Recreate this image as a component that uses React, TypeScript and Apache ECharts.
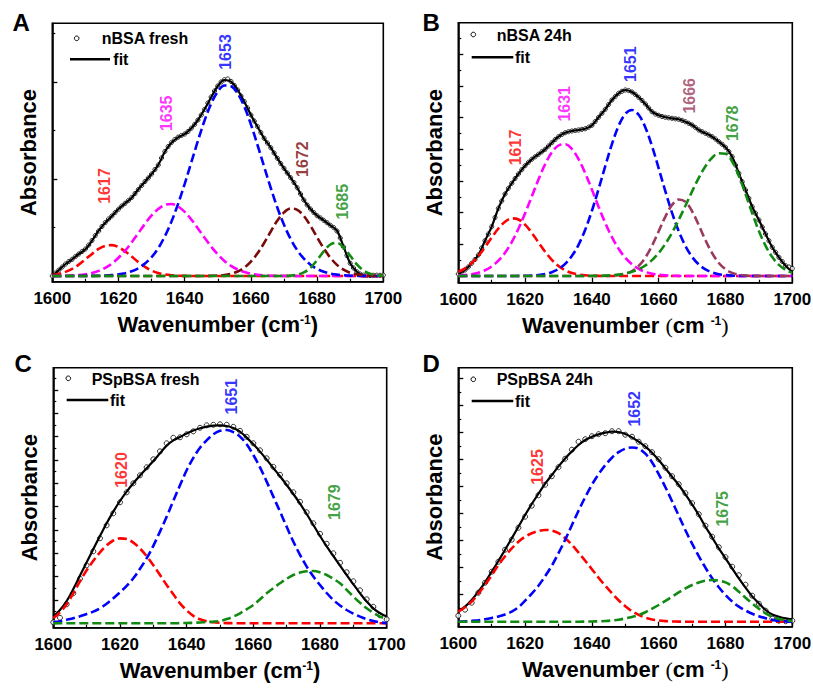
import React, { useEffect, useRef } from 'react';
import * as echarts from 'echarts';

// ---------- data (absorbance, arbitrary units above baseline) ----------
const WN_2 = Array.from({ length: 51 }, (_, i) => 1600 + 2 * i); // fit & components grid
const WN_1 = Array.from({ length: 101 }, (_, i) => 1600 + i); // dense data grid (A, B)

const SAMPLES = ['nBSA fresh', 'nBSA 24h', 'PSpBSA fresh', 'PSpBSA 24h'];
const LETTERS = ['A', 'B', 'C', 'D'];
const X_TICKS = [1600, 1620, 1640, 1660, 1680, 1700];

const A_PEAKS = ['1617', '1635', '1653', '1672', '1685'];
const B_PEAKS = ['1617', '1631', '1651', '1666', '1678'];
const C_PEAKS = ['1620', '1651', '1679'];
const D_PEAKS = ['1625', '1652', '1675'];

const A_DATA = [
  0.0, 0.03, 0.06, 0.09, 0.12, 0.145, 0.167, 0.195, 0.22, 0.245,
  0.27, 0.31, 0.355, 0.405, 0.45, 0.495, 0.535, 0.57, 0.6, 0.635,
  0.668, 0.7, 0.727, 0.755, 0.785, 0.825, 0.865, 0.905, 0.945, 0.98,
  1.02, 1.065, 1.11, 1.18, 1.245, 1.295, 1.335, 1.365, 1.388, 1.405,
  1.42, 1.445, 1.478, 1.515, 1.56, 1.61, 1.665, 1.73, 1.79, 1.85,
  1.9, 1.94, 1.963, 1.97, 1.945, 1.905, 1.86, 1.8, 1.745, 1.68,
  1.61, 1.55, 1.495, 1.435, 1.377, 1.33, 1.283, 1.23, 1.177, 1.125,
  1.077, 1.03, 0.983, 0.935, 0.883, 0.82, 0.76, 0.71, 0.67, 0.635,
  0.603, 0.58, 0.557, 0.533, 0.507, 0.485, 0.45, 0.38, 0.29, 0.205,
  0.127, 0.08, 0.043, 0.02, 0.008, 0.005, 0.005, 0.007, 0.008, 0.007,
  0.008,
];
const A_FIT = [
  0, 0.06, 0.12, 0.167, 0.22, 0.267, 0.353, 0.453, 0.533, 0.6,
  0.67, 0.727, 0.783, 0.867, 0.943, 1.02, 1.11, 1.243, 1.333, 1.387,
  1.42, 1.477, 1.56, 1.667, 1.787, 1.9, 1.96, 1.943, 1.86, 1.743,
  1.61, 1.493, 1.377, 1.283, 1.177, 1.077, 0.983, 0.883, 0.76, 0.67,
  0.603, 0.557, 0.507, 0.453, 0.293, 0.127, 0.043, 0.007, 0, 0,
  0.003,
];
const A_1617 = [
  0.01, 0.021, 0.041, 0.071, 0.114, 0.166, 0.221, 0.271, 0.302, 0.309,
  0.289, 0.247, 0.194, 0.139, 0.091, 0.054, 0.03, 0.015, 0.007, 0.003,
  0.001, 0, 0, 0, 0, 0, 0, 0, 0, 0,
  0, 0, 0, 0, 0, 0, 0, 0, 0, 0,
  0, 0, 0, 0, 0, 0, 0, 0, 0, 0,
  0,
];
const A_1635 = [
  0, 0.001, 0.002, 0.005, 0.009, 0.017, 0.03, 0.051, 0.081, 0.124,
  0.182, 0.253, 0.337, 0.429, 0.522, 0.606, 0.671, 0.711, 0.72, 0.695,
  0.641, 0.565, 0.476, 0.383, 0.294, 0.216, 0.151, 0.101, 0.065, 0.04,
  0.023, 0.013, 0.007, 0.003, 0.002, 0.001, 0, 0, 0, 0,
  0, 0, 0, 0, 0, 0, 0, 0, 0, 0,
  0,
];
const A_1653 = [
  0, 0, 0, 0, 0, 0.001, 0.001, 0.002, 0.005, 0.009,
  0.016, 0.028, 0.048, 0.078, 0.124, 0.189, 0.278, 0.397, 0.544, 0.721,
  0.921, 1.137, 1.353, 1.555, 1.724, 1.845, 1.905, 1.898, 1.825, 1.694,
  1.516, 1.31, 1.093, 0.88, 0.683, 0.512, 0.37, 0.258, 0.174, 0.113,
  0.071, 0.043, 0.025, 0.014, 0.008, 0.004, 0.002, 0.001, 0, 0,
  0,
];
const A_1672 = [
  0, 0, 0, 0, 0, 0, 0, 0, 0, 0,
  0, 0, 0, 0, 0, 0, 0, 0, 0, 0,
  0, 0, 0, 0.001, 0.002, 0.004, 0.01, 0.023, 0.045, 0.084,
  0.144, 0.227, 0.33, 0.445, 0.554, 0.636, 0.675, 0.662, 0.6, 0.501,
  0.387, 0.277, 0.183, 0.111, 0.063, 0.032, 0.016, 0.007, 0.003, 0.001,
  0,
];
const A_1685 = [
  0, 0, 0, 0, 0, 0, 0, 0, 0, 0,
  0, 0, 0, 0, 0, 0, 0, 0, 0, 0,
  0, 0, 0, 0, 0, 0, 0, 0, 0, 0,
  0, 0, 0, 0, 0, 0.001, 0.004, 0.013, 0.036, 0.083,
  0.158, 0.246, 0.315, 0.331, 0.285, 0.202, 0.117, 0.056, 0.022, 0.007,
  0.002,
];

const B_DATA = [
  0.02, 0.04, 0.06, 0.09, 0.127, 0.165, 0.21, 0.28, 0.353, 0.42,
  0.493, 0.585, 0.677, 0.75, 0.82, 0.877, 0.927, 0.975, 1.02, 1.063,
  1.103, 1.137, 1.167, 1.192, 1.217, 1.242, 1.267, 1.3, 1.333, 1.365,
  1.393, 1.415, 1.433, 1.443, 1.45, 1.455, 1.46, 1.466, 1.473, 1.488,
  1.507, 1.545, 1.587, 1.627, 1.667, 1.715, 1.76, 1.795, 1.827, 1.847,
  1.86, 1.855, 1.84, 1.815, 1.787, 1.755, 1.72, 1.68, 1.643, 1.62,
  1.607, 1.595, 1.587, 1.582, 1.577, 1.572, 1.567, 1.556, 1.543, 1.527,
  1.51, 1.485, 1.46, 1.443, 1.427, 1.41, 1.393, 1.37, 1.343, 1.317,
  1.287, 1.245, 1.193, 1.11, 1.027, 0.943, 0.86, 0.777, 0.693, 0.627,
  0.56, 0.49, 0.42, 0.353, 0.287, 0.237, 0.187, 0.145, 0.103, 0.09,
  0.075,
];
const B_FIT = [
  0.02, 0.06, 0.127, 0.21, 0.353, 0.493, 0.677, 0.82, 0.927, 1.02,
  1.103, 1.167, 1.217, 1.267, 1.333, 1.393, 1.433, 1.45, 1.46, 1.473,
  1.507, 1.587, 1.667, 1.76, 1.827, 1.86, 1.84, 1.787, 1.72, 1.643,
  1.607, 1.587, 1.577, 1.567, 1.543, 1.51, 1.46, 1.427, 1.393, 1.343,
  1.287, 1.193, 1.027, 0.86, 0.693, 0.56, 0.42, 0.287, 0.187, 0.103,
  0.04,
];
const B_1617 = [
  0.042, 0.077, 0.129, 0.2, 0.289, 0.385, 0.475, 0.543, 0.576, 0.565,
  0.513, 0.432, 0.336, 0.243, 0.162, 0.1, 0.057, 0.03, 0.015, 0.007,
  0.003, 0.001, 0, 0, 0, 0, 0, 0, 0, 0,
  0, 0, 0, 0, 0, 0, 0, 0, 0, 0,
  0, 0, 0, 0, 0, 0, 0, 0, 0, 0,
  0,
];
const B_1631 = [
  0.005, 0.009, 0.018, 0.033, 0.057, 0.096, 0.153, 0.233, 0.339, 0.472,
  0.627, 0.796, 0.965, 1.117, 1.236, 1.305, 1.317, 1.27, 1.169, 1.028,
  0.864, 0.693, 0.531, 0.389, 0.272, 0.182, 0.116, 0.071, 0.041, 0.023,
  0.012, 0.006, 0.003, 0.001, 0, 0, 0, 0, 0, 0,
  0, 0, 0, 0, 0, 0, 0, 0, 0, 0,
  0,
];
const B_1651 = [
  0, 0, 0, 0, 0, 0, 0, 0, 0, 0.001,
  0.002, 0.005, 0.01, 0.02, 0.038, 0.07, 0.121, 0.2, 0.312, 0.463,
  0.652, 0.869, 1.099, 1.319, 1.502, 1.621, 1.66, 1.612, 1.486, 1.298,
  1.076, 0.846, 0.631, 0.447, 0.3, 0.191, 0.115, 0.066, 0.036, 0.018,
  0.009, 0.004, 0.002, 0.001, 0, 0, 0, 0, 0, 0,
  0,
];
const B_1666 = [
  0, 0, 0, 0, 0, 0, 0, 0, 0, 0,
  0, 0, 0, 0, 0, 0, 0, 0, 0, 0,
  0, 0, 0.001, 0.003, 0.009, 0.022, 0.05, 0.101, 0.185, 0.303,
  0.447, 0.594, 0.711, 0.765, 0.742, 0.647, 0.508, 0.358, 0.228, 0.13,
  0.067, 0.031, 0.013, 0.005, 0.002, 0.001, 0, 0, 0, 0,
  0,
];
const B_1678 = [
  0, 0, 0, 0, 0, 0, 0, 0, 0, 0,
  0, 0, 0, 0, 0, 0, 0, 0, 0, 0,
  0.001, 0.002, 0.004, 0.008, 0.014, 0.025, 0.042, 0.067, 0.105, 0.159,
  0.23, 0.322, 0.433, 0.562, 0.702, 0.846, 0.982, 1.098, 1.183, 1.227,
  1.223, 1.144, 1.001, 0.82, 0.628, 0.45, 0.302, 0.189, 0.111, 0.061,
  0.031,
];

const C_DATA = [
  0.01, 0.055, 0.19, 0.3, 0.445, 0.58, 0.72, 0.85, 0.98, 1.1,
  1.21, 1.31, 1.4, 1.48, 1.56, 1.64, 1.72, 1.8, 1.855, 1.86,
  1.89, 1.92, 1.955, 1.98, 1.985, 1.99, 1.985, 1.965, 1.925, 1.865,
  1.8, 1.73, 1.65, 1.565, 1.485, 1.4, 1.31, 1.215, 1.11, 1.0,
  0.895, 0.795, 0.7, 0.605, 0.51, 0.42, 0.33, 0.24, 0.165, 0.08,
  0.04,
];
const C_FIT = [
  0.067, 0.133, 0.223, 0.343, 0.477, 0.61, 0.743, 0.873, 1.0, 1.117,
  1.223, 1.317, 1.4, 1.477, 1.55, 1.623, 1.7, 1.777, 1.83, 1.863,
  1.897, 1.927, 1.95, 1.967, 1.977, 1.98, 1.973, 1.953, 1.917, 1.857,
  1.79, 1.717, 1.637, 1.553, 1.47, 1.383, 1.293, 1.197, 1.093, 0.983,
  0.873, 0.77, 0.673, 0.577, 0.483, 0.39, 0.3, 0.217, 0.15, 0.1,
  0.067,
];
const C_1620 = [
  0.05, 0.11, 0.19, 0.3, 0.42, 0.53, 0.625, 0.71, 0.78, 0.828,
  0.849, 0.842, 0.807, 0.748, 0.671, 0.581, 0.483, 0.383, 0.29, 0.2,
  0.13, 0.075, 0.04, 0.02, 0.01, 0.005, 0.002, 0.001, 0, 0,
  0, 0, 0, 0, 0, 0, 0, 0, 0, 0,
  0, 0, 0, 0, 0, 0, 0, 0, 0, 0,
  0,
];
const C_1651 = [
  0.01, 0.02, 0.035, 0.05, 0.07, 0.093, 0.117, 0.15, 0.195, 0.25,
  0.31, 0.375, 0.45, 0.545, 0.65, 0.775, 0.917, 1.065, 1.225, 1.38,
  1.53, 1.655, 1.755, 1.83, 1.89, 1.925, 1.933, 1.912, 1.867, 1.79,
  1.683, 1.56, 1.417, 1.267, 1.117, 0.965, 0.817, 0.685, 0.567, 0.467,
  0.383, 0.303, 0.233, 0.178, 0.133, 0.097, 0.067, 0.042, 0.023, 0.01,
  0,
];
const C_1679 = [
  0, 0, 0, 0, 0, 0, 0, 0, 0, 0,
  0, 0, 0, 0, 0, 0, 0, 0, 0, 0.002,
  0.003, 0.005, 0.008, 0.012, 0.017, 0.023, 0.042, 0.067, 0.1, 0.14,
  0.183, 0.24, 0.3, 0.352, 0.4, 0.445, 0.483, 0.507, 0.52, 0.523,
  0.51, 0.483, 0.445, 0.4, 0.335, 0.267, 0.205, 0.15, 0.105, 0.067,
  0.043,
];

const D_DATA = [
  0.06, 0.12, 0.19, 0.29, 0.39, 0.5, 0.6, 0.72, 0.82, 0.94,
  1.05, 1.16, 1.265, 1.37, 1.455, 1.545, 1.63, 1.72, 1.8, 1.825,
  1.855, 1.875, 1.885, 1.905, 1.905, 1.87, 1.85, 1.8, 1.755, 1.695,
  1.625, 1.54, 1.455, 1.375, 1.285, 1.185, 1.075, 0.96, 0.85, 0.745,
  0.645, 0.55, 0.465, 0.37, 0.26, 0.18, 0.11, 0.03, 0.01, 0.005,
  0.01,
];
const D_FIT = [
  0.107, 0.15, 0.217, 0.3, 0.393, 0.5, 0.607, 0.72, 0.833, 0.95,
  1.067, 1.177, 1.28, 1.38, 1.467, 1.553, 1.633, 1.703, 1.767, 1.817,
  1.85, 1.873, 1.89, 1.9, 1.897, 1.877, 1.843, 1.8, 1.75, 1.69,
  1.617, 1.533, 1.45, 1.367, 1.273, 1.173, 1.067, 0.95, 0.843, 0.733,
  0.633, 0.533, 0.433, 0.34, 0.253, 0.183, 0.117, 0.073, 0.05, 0.033,
  0.023,
];
const D_1625 = [
  0.1, 0.145, 0.2, 0.28, 0.367, 0.465, 0.567, 0.655, 0.733, 0.8,
  0.85, 0.885, 0.907, 0.917, 0.912, 0.885, 0.835, 0.77, 0.69, 0.61,
  0.525, 0.44, 0.36, 0.285, 0.215, 0.155, 0.105, 0.068, 0.04, 0.022,
  0.012, 0.006, 0.003, 0.001, 0, 0, 0, 0, 0, 0,
  0, 0, 0, 0, 0, 0, 0, 0, 0, 0,
  0,
];
const D_1652 = [
  0, 0.003, 0.008, 0.015, 0.025, 0.038, 0.053, 0.073, 0.1, 0.145,
  0.21, 0.28, 0.36, 0.455, 0.56, 0.685, 0.82, 0.965, 1.11, 1.245,
  1.37, 1.475, 1.565, 1.64, 1.695, 1.73, 1.742, 1.73, 1.68, 1.595,
  1.475, 1.345, 1.205, 1.06, 0.915, 0.78, 0.655, 0.54, 0.435, 0.345,
  0.267, 0.202, 0.15, 0.112, 0.08, 0.055, 0.035, 0.02, 0.008, 0.003,
  0,
];
const D_1675 = [
  0, 0, 0, 0, 0, 0, 0, 0, 0, 0,
  0, 0, 0, 0, 0, 0, 0, 0, 0, 0.001,
  0.002, 0.004, 0.007, 0.012, 0.02, 0.033, 0.048, 0.067, 0.095, 0.13,
  0.167, 0.208, 0.25, 0.293, 0.333, 0.367, 0.393, 0.41, 0.417, 0.41,
  0.393, 0.355, 0.3, 0.24, 0.183, 0.13, 0.083, 0.05, 0.027, 0.013,
  0.007,
];

// ---------- styles & layout ----------
const SANS = '"Liberation Sans", Arial, Helvetica, sans-serif';
const SERIF = '"Liberation Serif", "Times New Roman", serif';
const COL = {
  red: '#ff0000',
  magenta: '#ff00ff',
  blue: '#0000ff',
  maroon: '#7a0a0a',
  green: '#118a11',
  wine: '#9b3a5c',
};

const PANELS = [
  {
    data: A_DATA, dataX: WN_1, fit: A_FIT, symSize: 4.2,
    comps: [
      { y: A_1617, color: COL.red, text: A_PEAKS[0] },
      { y: A_1635, color: COL.magenta, text: A_PEAKS[1] },
      { y: A_1653, color: COL.blue, text: A_PEAKS[2] },
      { y: A_1672, color: COL.maroon, text: A_PEAKS[3] },
      { y: A_1685, color: COL.green, text: A_PEAKS[4] },
    ],
  },
  {
    data: B_DATA, dataX: WN_1, fit: B_FIT, symSize: 4.2,
    comps: [
      { y: B_1617, color: COL.red, text: B_PEAKS[0] },
      { y: B_1631, color: COL.magenta, text: B_PEAKS[1] },
      { y: B_1651, color: COL.blue, text: B_PEAKS[2] },
      { y: B_1666, color: COL.wine, text: B_PEAKS[3] },
      { y: B_1678, color: COL.green, text: B_PEAKS[4] },
    ],
  },
  {
    data: C_DATA, dataX: WN_2, fit: C_FIT, symSize: 5,
    comps: [
      { y: C_1620, color: COL.red, text: C_PEAKS[0] },
      { y: C_1651, color: COL.blue, text: C_PEAKS[1] },
      { y: C_1679, color: COL.green, text: C_PEAKS[2] },
    ],
  },
  {
    data: D_DATA, dataX: WN_2, fit: D_FIT, symSize: 5,
    comps: [
      { y: D_1625, color: COL.red, text: D_PEAKS[0] },
      { y: D_1652, color: COL.blue, text: D_PEAKS[1] },
      { y: D_1675, color: COL.green, text: D_PEAKS[2] },
    ],
  },
];

const LAYOUT = [
  {
    left: 52.3, top: 23.3, width: 331, height: 258.4, yMin: -0.057, yMax: 2.527, half: 0.485,
    letter: [12.5, 22], serifParen: false,
    leg: { cx: 76.7, cy: 38.3, tx: 101.7, ty: 38.3, lx1: 70, lx2: 110, ly: 59.3, fx: 113.3 },
    labels: [[1615.7, 0.9], [1634.4, 1.627], [1652.4, 2.24], [1675.6, 1.168], [1687.6, 0.743]],
  },
  {
    left: 458.3, top: 22.7, width: 334, height: 260, yMin: -0.067, yMax: 2.533, half: 0.1585,
    letter: [422.5, 22.5], serifParen: true,
    leg: { cx: 473.3, cy: 34.5, tx: 496.7, ty: 35.3, lx1: 471.7, lx2: 513.3, ly: 57.3, fx: 515 },
    labels: [[1617.2, 1.285], [1631.7, 1.722], [1651.6, 2.118], [1669.1, 1.802], [1682.1, 1.527]],
  },
  {
    left: 53.3, top: 367.7, width: 333.4, height: 260, yMin: -0.044, yMax: 2.556, half: 0.1167,
    letter: [14.5, 363.5], serifParen: false,
    leg: { cx: 68.3, cy: 378.3, tx: 91.7, ty: 379, lx1: 66.7, lx2: 108.3, ly: 400, fx: 110 },
    labels: [[1620.5, 1.533], [1653.3, 2.266], [1684.2, 1.211]],
  },
  {
    left: 458.3, top: 367.7, width: 334, height: 259, yMin: -0.05, yMax: 2.54, half: 0.135,
    letter: [422.5, 363.5], serifParen: true,
    leg: { cx: 473.3, cy: 379.3, tx: 496.7, ty: 379.5, lx1: 471.7, lx2: 513.3, ly: 401, fx: 515 },
    labels: [[1623.6, 1.547], [1652.9, 2.129], [1679.0, 1.129]],
  },
];

function pairs(xs: number[], ys: number[]) {
  return ys.map((y, i) => [xs[i], y]);
}

function tickValues(half: number, max: number, major: boolean) {
  const out: number[] = [];
  for (let k = 0; k * half <= max + 1e-9; k++) {
    if ((k % 2 === 0) === major) out.push(+(k * half).toFixed(4));
  }
  return out;
}

function buildOption() {
  const grid: any[] = [];
  const xAxis: any[] = [];
  const yAxis: any[] = [];
  const series: any[] = [];
  const graphic: any[] = [];

  PANELS.forEach((p, i) => {
    const L = LAYOUT[i];
    grid.push({
      left: L.left, top: L.top, width: L.width, height: L.height,
      show: true, borderColor: '#000', borderWidth: 1.6, backgroundColor: 'transparent',
      containLabel: false, outerBoundsMode: 'none',
    });
    const xName = L.serifParen
      ? '{b|Wavenumber }{p|(}{b|cm }{s|-1}{p|)}'
      : '{b|Wavenumber (cm}{s|-1}{b|)}';
    xAxis.push({
      type: 'value', gridIndex: i, position: 'bottom',
      min: X_TICKS[0], max: X_TICKS[X_TICKS.length - 1], interval: X_TICKS[1] - X_TICKS[0],
      axisLine: { show: true, onZero: false, lineStyle: { color: '#000', width: 1.6 } },
      axisTick: { show: true, inside: true, length: 5, lineStyle: { color: '#000', width: 1.3 } },
      minorTick: { show: true, splitNumber: 2, length: 3, lineStyle: { color: '#000', width: 1.2 } },
      splitLine: { show: false },
      minorSplitLine: { show: false },
      axisLabel: {
        show: true, margin: 8, color: '#000', fontSize: 17, fontWeight: 'bold', fontFamily: SANS,
        formatter: (v: number) => String(v),
      },
      name: xName,
      nameLocation: 'middle',
      nameGap: 32,
      nameMoveOverlap: false,
      nameTextStyle: {
        color: '#000',
        rich: {
          b: { fontSize: 22, fontWeight: 'bold', fontFamily: SANS, color: '#000' },
          p: { fontSize: 22, fontWeight: 'normal', fontFamily: SERIF, color: '#000' },
          s: { fontSize: 12, fontWeight: 'bold', fontFamily: SANS, color: '#000', verticalAlign: 'bottom', padding: [0, 0, 10, 0] },
        },
      },
    });
    yAxis.push({
      type: 'value', gridIndex: i, position: 'left', min: L.yMin, max: L.yMax,
      axisLine: { show: true, onZero: false, lineStyle: { color: '#000', width: 1.6 } },
      axisTick: { show: true, inside: true, length: 5, customValues: tickValues(L.half, L.yMax, true), lineStyle: { color: '#000', width: 1.3 } },
      axisLabel: { show: false },
      splitLine: { show: false },
      name: 'Absorbance',
      nameLocation: 'middle',
      nameRotate: 90,
      nameGap: 13,
      nameMoveOverlap: false,
      nameTextStyle: { color: '#000', fontSize: 22, fontWeight: 'bold', fontFamily: SANS },
    });
    yAxis.push({
      type: 'value', gridIndex: i, position: 'left', min: L.yMin, max: L.yMax,
      axisLine: { show: false },
      axisTick: { show: true, inside: true, length: 3, customValues: tickValues(L.half, L.yMax, false), lineStyle: { color: '#000', width: 1.2 } },
      axisLabel: { show: false },
      splitLine: { show: false },
    });

    const yIdx = 2 * i;
    series.push({
      type: 'scatter', name: SAMPLES[i], xAxisIndex: i, yAxisIndex: yIdx,
      data: pairs(p.dataX, p.data),
      symbol: 'circle', symbolSize: p.symSize,
      itemStyle: { color: '#fff', borderColor: '#000', borderWidth: 1 },
      z: 2, silent: true,
    });
    series.push({
      type: 'line', name: 'fit', xAxisIndex: i, yAxisIndex: yIdx,
      data: pairs(WN_2, p.fit), smooth: 0.35, symbol: 'none', showSymbol: false,
      lineStyle: { color: '#000', width: 2.2 }, z: 3, silent: true,
    });
    p.comps.forEach((c, k) => {
      series.push({
        type: 'line', name: 'peak ' + c.text, xAxisIndex: i, yAxisIndex: yIdx,
        data: pairs(WN_2, c.y), smooth: 0.35, symbol: 'none', showSymbol: false,
        lineStyle: { color: c.color, width: 2.6, type: [9, 4] }, z: 4 + k * 0.01, silent: true,
      });
    });
    series.push({
      type: 'scatter', name: 'labels ' + LETTERS[i], xAxisIndex: i, yAxisIndex: yIdx,
      symbol: 'circle', symbolSize: 1,
      itemStyle: { color: 'rgba(0,0,0,0)' },
      data: p.comps.map((c, k) => ({
        name: c.text,
        value: L.labels[k],
        label: { color: c.color },
      })),
      label: {
        show: true, position: 'inside', rotate: 90, formatter: '{b}',
        fontSize: 16, fontFamily: SANS, fontWeight: 'bold',
      },
      z: 6, silent: true,
    });

    // panel letter
    graphic.push({
      type: 'text', x: L.letter[0], y: L.letter[1],
      style: { text: LETTERS[i], font: `bold 24px ${SANS}`, fill: '#000', textAlign: 'left', textVerticalAlign: 'middle' },
    });
    // legend
    const g = L.leg;
    graphic.push({
      type: 'circle', shape: { cx: g.cx, cy: g.cy, r: 2.3 },
      style: { fill: '#fff', stroke: '#000', lineWidth: 1 },
    });
    graphic.push({
      type: 'text', x: g.tx, y: g.ty,
      style: { text: SAMPLES[i], font: `bold 16px ${SANS}`, fill: '#000', textAlign: 'left', textVerticalAlign: 'middle' },
    });
    graphic.push({
      type: 'line', shape: { x1: g.lx1, y1: g.ly, x2: g.lx2, y2: g.ly },
      style: { stroke: '#000', lineWidth: 2.6 },
    });
    graphic.push({
      type: 'text', x: g.fx, y: g.ly,
      style: { text: 'fit', font: `bold 16px ${SANS}`, fill: '#000', textAlign: 'left', textVerticalAlign: 'middle' },
    });
  });

  return {
    animation: false,
    backgroundColor: '#fff',
    grid, xAxis, yAxis, series, graphic,
  };
}

export default function App() {
  const ref = useRef<HTMLDivElement>(null);
  useEffect(() => {
    if (!ref.current) return;
    const chart = echarts.init(ref.current, undefined, { renderer: 'svg' });
    chart.setOption(buildOption() as any);
    return () => chart.dispose();
  }, []);
  return (
    <div
      ref={ref}
      style={{ position: 'absolute', left: 0, top: 0, width: 813, height: 689, background: '#fff' }}
    />
  );
}
